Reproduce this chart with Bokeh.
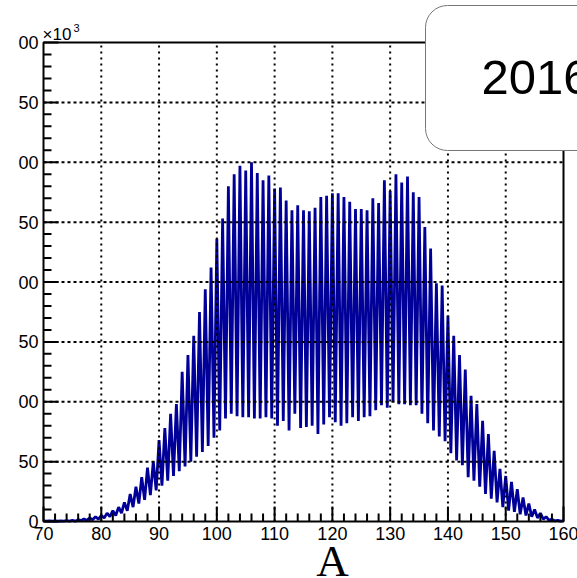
from bokeh.plotting import figure
from bokeh.models import Range1d
from bokeh.core.properties import value
from bokeh.embed import file_html
from bokeh.resources import INLINE

# ---- data (values in units of 10^3) ----
A_even = list(range(70, 161))            # integer A (peaks)
peak_vals = [
    0.5, 0.5, 0.5, 0.5, 0.8, 1.0, 1.5, 2, 3, 4,          # 70-79
    5, 7, 9, 12, 16, 23, 29, 37, 45, 50,                  # 80-89
    68, 78, 90, 98, 125, 139, 155, 175, 194, 212,         # 90-99
    236, 253, 280, 290, 297, 293, 300, 291, 285, 289,     # 100-109
    278, 279, 268, 260, 264, 260, 259, 262, 271, 272,     # 110-119
    274, 274, 271, 267, 261, 261, 260, 270, 266, 285,     # 120-129
    276, 290, 283, 288, 275, 271, 246, 228, 199, 197,     # 130-139
    172, 155, 139, 127, 105, 98, 84, 73, 59, 44,          # 140-149
    38, 33, 27, 20, 15, 10, 7, 4, 2, 1,                   # 150-159
    0.5,                                                  # 160
]
A_half = [a + 0.5 for a in range(70, 160)]  # half-integer A (troughs)
trough_vals = [
    0.3, 0.3, 0.3, 0.3, 0.3, 0.3, 0.8, 1, 1.5, 2,         # 70.5-79.5
    3, 4, 5, 7, 9, 12, 15, 18, 22, 26,                    # 80.5-89.5
    30, 34, 38, 42, 46, 50, 54, 58, 63, 70,               # 90.5-99.5
    76, 86, 90, 88, 87, 87, 86, 86, 87, 86,               # 100.5-109.5
    80, 84, 76, 90, 78, 79, 80, 73, 81, 87,               # 110.5-119.5
    83, 80, 82, 87, 84, 87, 88, 93, 97, 95,               # 120.5-129.5
    100, 98, 98, 97, 97, 90, 82, 76, 71, 67,              # 130.5-139.5
    57, 51, 47, 37, 34, 29, 23, 19, 16, 12,               # 140.5-149.5
    9, 8, 6, 5, 4, 3, 2, 1, 0.5, 0.3,                     # 150.5-159.5
]
x_ticks = [70, 80, 90, 100, 110, 120, 130, 140, 150, 160]
x_tick_labels = ["70", "80", "90", "100", "110", "120", "130", "140", "150", "160"]
x_minor = [72, 74, 76, 78, 82, 84, 86, 88, 92, 94, 96, 98, 102, 104, 106, 108,
           112, 114, 116, 118, 122, 124, 126, 128, 132, 134, 136, 138, 142, 144,
           146, 148, 152, 154, 156, 158]
y_ticks = [0, 50, 100, 150, 200, 250, 300, 350, 400]
y_tick_labels = ["0", "50", "00", "50", "00", "50", "00", "50", "00"]
y_minor = [10, 20, 30, 40, 60, 70, 80, 90, 110, 120, 130, 140, 160, 170, 180, 190,
           210, 220, 230, 240, 260, 270, 280, 290, 310, 320, 330, 340, 360, 370,
           380, 390]
x_title = "A"
exp_text = "\u00d710"
exp_sup = "3"
box_text = "2016"

# ---- build the zig-zag line ----
xs, ys = [], []
for i, a in enumerate(A_even):
    xs.append(a); ys.append(peak_vals[i])
    if i < len(A_half):
        xs.append(A_half[i]); ys.append(trough_vals[i])

# ---- layout: the plot area (70..160, 0..400) sits at px 43..563, 521..42 ----
W, H = 577, 578
L, R, T, B = 43, 14, 42, 57
X0, X1, Y0, Y1 = 70, 160, 0, 400
fw, fh = W - L - R, H - T - B
kx = (X1 - X0) / fw   # data units per px
ky = (Y1 - Y0) / fh

def dx(px):
    return X0 + (px - L) * kx

def dy(py):
    return Y0 + (H - B - py) * ky

p = figure(width=W, height=H,
           x_range=Range1d(dx(0), dx(W)), y_range=Range1d(dy(H), dy(0)),
           output_backend="svg", toolbar_location=None,
           x_axis_location=None, y_axis_location=None, min_border=0)
p.grid.visible = False
p.outline_line_color = None
p.background_fill_color = "white"
p.border_fill_color = "white"

# data line
p.line(xs, ys, line_color="#000099", line_width=2.8)

# grid (dotted, on top of data)
gx = [t for t in x_ticks if X0 < t < X1]
gy = [t for t in y_ticks if Y0 < t < Y1]
p.segment(x0=gx, y0=[Y0] * len(gx), x1=gx, y1=[Y1] * len(gx),
          line_color="black", line_width=2, line_dash="2 4")
p.segment(x0=[X0] * len(gy), y0=gy, x1=[X1] * len(gy), y1=gy,
          line_color="black", line_width=2, line_dash="3 3")

# frame
p.quad(left=[X0], right=[X1], bottom=[Y0], top=[Y1], fill_color=None,
       line_color="black", line_width=2)

# ticks (inside)
maj, mnr = 15, 8
p.segment(x0=x_ticks, y0=[Y0] * len(x_ticks), x1=x_ticks,
          y1=[Y0 + maj * ky] * len(x_ticks), line_color="black", line_width=2)
p.segment(x0=x_minor, y0=[Y0] * len(x_minor), x1=x_minor,
          y1=[Y0 + mnr * ky] * len(x_minor), line_color="black", line_width=2)
p.segment(x0=[X0] * len(y_ticks), y0=y_ticks, x1=[X0 + maj * kx] * len(y_ticks),
          y1=y_ticks, line_color="black", line_width=2)
p.segment(x0=[X0] * len(y_minor), y0=y_minor, x1=[X0 + mnr * kx] * len(y_minor),
          y1=y_minor, line_color="black", line_width=2)

# tick labels
p.text(x=x_ticks, y=[dy(526)] * len(x_ticks), text=x_tick_labels,
       text_align="center", text_baseline="top", text_font=value("Liberation Sans"),
       text_font_size="18px", text_color="black")
p.text(x=[dx(38)] * len(y_ticks), y=y_ticks, text=y_tick_labels,
       text_align="right", text_baseline="middle", text_font=value("Liberation Sans"),
       text_font_size="18px", text_color="black")

# exponent
p.text(x=[dx(42)], y=[dy(34)], text=[exp_text], text_align="left",
       text_baseline="alphabetic", text_font=value("Liberation Sans"),
       text_font_size="17px", text_color="black")
p.text(x=[dx(73)], y=[dy(27)], text=[exp_sup], text_align="left",
       text_baseline="alphabetic", text_font=value("Liberation Sans"),
       text_font_size="11px", text_color="black")

# x-axis title
p.text(x=[120], y=[dy(560)], text=[x_title], text_align="center",
       text_baseline="alphabetic", text_font=value("Liberation Serif"),
       text_font_size="45px", text_color="black")

# year box
p.quad(left=[dx(425)], right=[dx(700)], top=[dy(5)], bottom=[dy(150)],
       fill_color="white", line_color="#777777", line_width=1, border_radius=22)
p.text(x=[dx(481)], y=[dy(77)], text=[box_text], text_align="left",
       text_baseline="alphabetic", text_font=value("Liberation Sans"),
       text_font_size="49px", text_color="black")

open("out.html", "w").write(file_html(p, INLINE))
